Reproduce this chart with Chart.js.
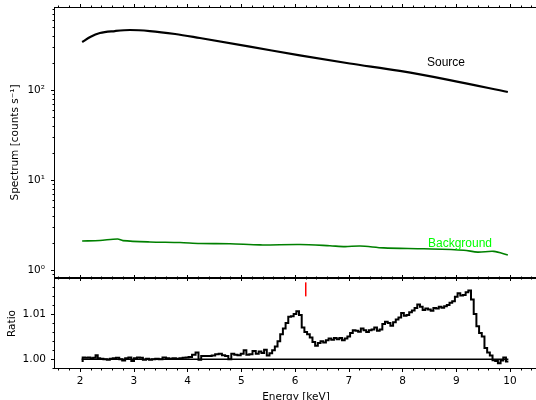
<!DOCTYPE html>
<html>
<head>
<meta charset="utf-8">
<script src="https://cdn.jsdelivr.net/npm/chart.js@4.4.0/dist/chart.umd.min.js"></script>
<style>
html, body { margin: 0; padding: 0; background: #fff; overflow: hidden; width: 536px; height: 400px; }
#specChart { position: absolute; left: 0; top: 0; }
#ratioChart { position: absolute; left: 0; top: 270px; }
</style>
</head>
<body>
<canvas id="specChart" width="540" height="282"></canvas>
<canvas id="ratioChart" width="540" height="140"></canvas>
<script>
// source spectrum (counts/s) vs energy (keV)
const sourceEnergy = [2.04, 2.19, 2.37, 2.65, 2.93, 3.30, 3.77, 4.23, 5.16, 6.09, 7.02, 7.95, 8.88, 9.96];
const sourceRate   = [341, 388, 430, 452, 464, 452, 419, 378, 304, 242, 197, 163, 129, 95];

// background spectrum
const bkgEnergy = [2.04, 2.37, 2.70, 2.80, 3.30, 3.86, 4.23, 4.79, 5.35, 6.09, 6.65, 6.93, 7.21, 7.65, 8.40, 9.14, 9.40, 9.70, 9.96];
const bkgRate   = [2.10, 2.13, 2.21, 2.12, 2.05, 2.02, 1.97, 1.96, 1.90, 1.92, 1.86, 1.82, 1.85, 1.76, 1.72, 1.66, 1.58, 1.61, 1.47];

// ratio panel
const ratioEnergy = [2.03, 2.07, 2.12, 2.17, 2.22, 2.27, 2.31, 2.35, 2.40, 2.47, 2.53, 2.58, 2.64, 2.70, 2.76, 2.81, 2.87, 2.93, 2.98,
  3.03, 3.09, 3.14, 3.20, 3.26, 3.31, 3.37, 3.43, 3.50, 3.57, 3.63, 3.69, 3.75, 3.82, 3.88, 3.94, 3.99,
  4.05, 4.12, 4.18, 4.23, 4.28, 4.35, 4.42, 4.48, 4.55, 4.61, 4.67, 4.73, 4.79, 4.84, 4.90, 4.96,
  5.02, 5.07, 5.12, 5.18, 5.24, 5.30, 5.35, 5.40, 5.45, 5.50, 5.55, 5.60, 5.65, 5.70, 5.75, 5.80, 5.85, 5.90, 5.95,
  6.00, 6.05, 6.10, 6.15, 6.20, 6.25, 6.30, 6.35, 6.40, 6.45, 6.50, 6.55, 6.60, 6.65, 6.70, 6.75, 6.80, 6.85, 6.90, 6.95,
  7.00, 7.05, 7.10, 7.15, 7.20, 7.25, 7.30, 7.35, 7.40, 7.45, 7.50, 7.55, 7.60, 7.65, 7.70, 7.75, 7.80, 7.85, 7.90, 7.95,
  8.00, 8.05, 8.10, 8.15, 8.20, 8.25, 8.30, 8.35, 8.40, 8.45, 8.50, 8.55, 8.60, 8.65, 8.70, 8.75, 8.80, 8.85, 8.90, 8.95,
  9.00, 9.05, 9.10, 9.15, 9.20, 9.25, 9.30, 9.35, 9.40, 9.45, 9.50, 9.55, 9.60, 9.65, 9.70, 9.75, 9.80, 9.85, 9.90, 9.95, 9.97];
const ratioValue = [0.9996, 1.0004, 1.0003, 1.0004, 1.0002, 1.0003, 1.0009, 1.0002, 1.0001, 1.0000, 0.9999, 1.0001, 1.0002, 1.0003, 1.0000, 0.9997, 1.0002, 1.0004, 0.9996,
  1.0002, 1.0004, 1.0003, 0.9999, 1.0001, 0.9999, 1.0000, 1.0001, 1.0000, 1.0004, 1.0002, 1.0001, 1.0002, 1.0001, 1.0002, 1.0003, 1.0004,
  1.0005, 1.0010, 1.0015, 0.9999, 1.0007, 1.0007, 1.0007, 1.0008, 1.0011, 1.0012, 1.0009, 1.0007, 1.0000, 1.0012, 1.0010, 1.0009,
  1.0012, 1.0020, 1.0010, 1.0011, 1.0018, 1.0012, 1.0017, 1.0014, 1.0021, 1.0008, 1.0013, 1.0020, 1.0028, 1.0040, 1.0055, 1.0068, 1.0080, 1.0094, 1.0095,
  1.0100, 1.0106, 1.0098, 1.0070, 1.0060, 1.0055, 1.0048, 1.0038, 1.0030, 1.0036, 1.0040, 1.0037, 1.0042, 1.0046, 1.0043, 1.0047, 1.0044, 1.0047, 1.0042, 1.0046,
  1.0050, 1.0058, 1.0064, 1.0063, 1.0061, 1.0068, 1.0064, 1.0060, 1.0064, 1.0066, 1.0070, 1.0063, 1.0066, 1.0078, 1.0083, 1.0080, 1.0074, 1.0082, 1.0088, 1.0092,
  1.0102, 1.0096, 1.0098, 1.0104, 1.0108, 1.0113, 1.0121, 1.0116, 1.0109, 1.0112, 1.0110, 1.0107, 1.0113, 1.0112, 1.0116, 1.0114, 1.0117, 1.0120, 1.0125, 1.0128,
  1.0138, 1.0146, 1.0141, 1.0142, 1.0148, 1.0152, 1.0132, 1.0100, 1.0073, 1.0058, 1.0050, 1.0025, 1.0015, 1.0008, 0.9998, 0.9996, 0.9991, 0.9997, 1.0004, 0.9995, 0.9995];

const unityRange = [2.03, 9.97];
const lineMarkEnergy = 6.2;
const lineMarkRatio = [1.0139, 1.0170];

// ticks
const energyTicks = [2, 3, 4, 5, 6, 7, 8, 9, 10];
const spectrumTicks = [1, 10, 100];
const spectrumTickLabels = ['10\u2070', '10\u00b9', '10\u00b2'];
const ratioTicks = [1.00, 1.01];

// plot runs a little past the right edge of the window, like the original
const xMin = 1.535, xMax = 10.5025;
const tickFont = { family: 'DejaVu Sans', size: 10.5 };
const noGrid = { display: false, drawTicks: false };

function pts(xs, ys) { return xs.map((x, i) => ({ x: x, y: ys[i] })); }

// minor tick lists
const energyMinor = [];
for (let v = 1.6; v < 10.45; v += 0.2) {
  if (Math.abs(v - Math.round(v)) > 0.01) energyMinor.push(v);
}
const spectrumMinor = [];
for (let n = -1; n <= 2; n++) {
  for (let d = 2; d <= 9; d++) spectrumMinor.push(d * Math.pow(10, n));
}
const ratioMinor = [];
for (let v = 0.998; v < 1.018; v += 0.002) {
  if (Math.abs(v - 1.00) > 1e-5 && Math.abs(v - 1.01) > 1e-5) ratioMinor.push(v);
}

// fixed box sizes so both panels share the same plot edges
function fixWidth(s) { s.width = 55; s.paddingTop = 0; s.paddingBottom = 0; }
function fixHeight(h) {
  return s => { s.height = h; s.paddingLeft = 0; s.paddingRight = 0; };
}

// frame + outward ticks on all four sides
const frameTicks = {
  id: 'frameTicks',
  afterDraw(chart, args, opts) {
    const { ctx, chartArea: a, scales } = chart;
    ctx.save();
    ctx.strokeStyle = '#000';
    ctx.lineWidth = 1;
    const L = Math.round(a.left) - 0.5, R = Math.round(a.right) - 0.5;
    const T = Math.round(a.top) + 0.5, B = Math.round(a.bottom) - 0.5;
    ctx.strokeRect(L, T, R - L, B - T);
    ctx.beginPath();
    function xt(v, len) {
      if (v < scales.x.min || v > scales.x.max) return;
      const p = Math.round(scales.x.getPixelForValue(v)) + 0.5;
      ctx.moveTo(p, B); ctx.lineTo(p, B + len);
      ctx.moveTo(p, T); ctx.lineTo(p, T - len);
    }
    function yt(v, len) {
      if (v < scales.y.min || v > scales.y.max) return;
      const p = Math.round(scales.y.getPixelForValue(v)) + 0.5;
      ctx.moveTo(L, p); ctx.lineTo(L - len, p);
      ctx.moveTo(R, p); ctx.lineTo(R + len, p);
    }
    energyTicks.forEach(v => xt(v, 3.5));
    energyMinor.forEach(v => xt(v, 2));
    opts.yMajor.forEach(v => yt(v, 3.5));
    opts.yMinor.forEach(v => yt(v, 2));
    ctx.stroke();
    ctx.restore();
  }
};

// text labels placed in data coordinates
const dataLabels = {
  id: 'dataLabels',
  afterDatasetsDraw(chart, args, opts) {
    const { ctx, scales } = chart;
    (opts.items || []).forEach(it => {
      ctx.save();
      ctx.font = '12px "Liberation Sans", Arial, sans-serif';
      ctx.fillStyle = it.color;
      ctx.textAlign = 'center';
      ctx.textBaseline = 'middle';
      ctx.fillText(it.text, scales.x.getPixelForValue(it.x), scales.y.getPixelForValue(it.y));
      ctx.restore();
    });
  }
};

Chart.defaults.font.family = 'DejaVu Sans';
Chart.defaults.color = '#000';

new Chart(document.getElementById('specChart'), {
  type: 'line',
  data: {
    datasets: [
      {
        label: 'Source',
        data: pts(sourceEnergy, sourceRate),
        borderColor: '#000',
        borderWidth: 2.2,
        pointRadius: 0,
        cubicInterpolationMode: 'monotone'
      },
      {
        label: 'Background',
        data: pts(bkgEnergy, bkgRate),
        borderColor: '#008000',
        borderWidth: 1.6,
        pointRadius: 0,
        tension: 0.3
      }
    ]
  },
  options: {
    responsive: false,
    animation: false,
    devicePixelRatio: 1,
    layout: { padding: { top: 7, right: 3, bottom: 4, left: 0 } },
    plugins: {
      legend: { display: false },
      tooltip: { enabled: false },
      frameTicks: { yMajor: spectrumTicks, yMinor: spectrumMinor },
      dataLabels: {
        items: [
          { text: 'Source', x: 8.81, y: 201, color: '#000' },
          { text: 'Background', x: 9.07, y: 1.98, color: '#00ff00' }
        ]
      }
    },
    scales: {
      x: {
        type: 'linear', min: xMin, max: xMax,
        grid: noGrid, border: { display: false },
        ticks: { display: false },
        afterFit: fixHeight(0)
      },
      y: {
        type: 'logarithmic', min: 0.815, max: 836,
        grid: noGrid, border: { display: false },
        afterBuildTicks: s => { s.ticks = spectrumTicks.map(v => ({ value: v })); },
        ticks: {
          autoSkip: false, padding: 10, font: tickFont,
          callback: v => spectrumTickLabels[spectrumTicks.indexOf(v)] || ''
        },
        title: {
          display: true, text: 'Spectrum [counts s\u207b\u00b9]',
          font: { family: 'DejaVu Sans', size: 10.5, lineHeight: 1.2 },
          padding: { top: 9, bottom: 0 }
        },
        afterFit: fixWidth
      }
    }
  },
  plugins: [frameTicks, dataLabels]
});

new Chart(document.getElementById('ratioChart'), {
  type: 'line',
  data: {
    datasets: [
      {
        label: 'unity',
        data: [{ x: unityRange[0], y: 1 }, { x: unityRange[1], y: 1 }],
        borderColor: '#000',
        borderWidth: 1.5,
        pointRadius: 0
      },
      {
        label: 'ratio',
        data: pts(ratioEnergy, ratioValue),
        borderColor: '#000',
        borderWidth: 2,
        pointRadius: 0,
        stepped: 'middle'
      },
      {
        label: 'line',
        data: lineMarkRatio.map(r => ({ x: lineMarkEnergy, y: r })),
        borderColor: '#ff0000',
        borderWidth: 1.5,
        pointRadius: 0
      }
    ]
  },
  options: {
    responsive: false,
    animation: false,
    devicePixelRatio: 1,
    layout: { padding: { top: 8, right: 3, bottom: 0, left: 0 } },
    plugins: {
      legend: { display: false },
      tooltip: { enabled: false },
      frameTicks: { yMajor: ratioTicks, yMinor: ratioMinor }
    },
    scales: {
      x: {
        type: 'linear', min: xMin, max: xMax,
        grid: noGrid, border: { display: false },
        afterBuildTicks: s => { s.ticks = energyTicks.map(v => ({ value: v })); },
        ticks: { autoSkip: false, maxRotation: 0, padding: 6, font: tickFont, callback: v => String(v) },
        title: {
          display: true, text: 'Energy [keV]',
          font: { family: 'DejaVu Sans', size: 10.5, lineHeight: 1.2 },
          padding: { top: 0, bottom: 6.7 }
        },
        afterFit: fixHeight(41)
      },
      y: {
        type: 'linear', min: 0.99784, max: 1.01796,
        grid: noGrid, border: { display: false },
        afterBuildTicks: s => { s.ticks = ratioTicks.map(v => ({ value: v })); },
        ticks: { autoSkip: false, padding: 9, font: tickFont, callback: v => v.toFixed(2) },
        title: {
          display: true, text: 'Ratio',
          font: { family: 'DejaVu Sans', size: 10.5, lineHeight: 1.2 },
          padding: { top: 5.5, bottom: 0 }
        },
        afterFit: fixWidth
      }
    }
  },
  plugins: [frameTicks]
});
</script>
</body>
</html>
